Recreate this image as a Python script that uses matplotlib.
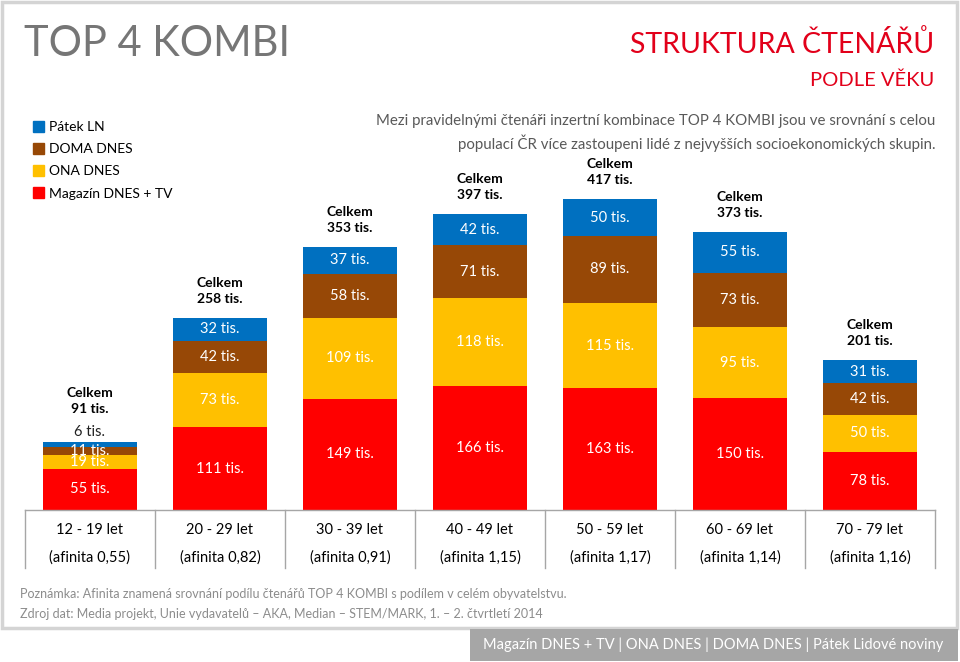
import matplotlib
matplotlib.use("Agg")
from matplotlib import pyplot as plt
from matplotlib.patches import Rectangle, Patch

plt.rcParams['font.family'] = ['Lato', 'DejaVu Sans']

# data (thousands of readers)
age_groups = ["12 - 19 let", "20 - 29 let", "30 - 39 let", "40 - 49 let",
              "50 - 59 let", "60 - 69 let", "70 - 79 let"]
affinity = ["0,55", "0,82", "0,91", "1,15", "1,17", "1,14", "1,16"]
magazin = [55, 111, 149, 166, 163, 150, 78]
ona = [19, 73, 109, 118, 115, 95, 50]
doma = [11, 42, 58, 71, 89, 73, 42]
patek = [6, 32, 37, 42, 50, 55, 31]
totals = [91, 258, 353, 397, 417, 373, 201]

series = [("Magazín DNES + TV", magazin, "#ff0000"),
          ("ONA DNES", ona, "#ffc000"),
          ("DOMA DNES", doma, "#974806"),
          ("Pátek LN", patek, "#0070c0")]

W, H = 960, 662
SCALE = 0.746  # pixels per thousand readers


def u(px):
    return px / SCALE


def fx(x):
    return x / W


def fy(y):
    return 1 - y / H


fig = plt.figure(figsize=(9.6, 6.62), dpi=100)
ax = fig.add_axes([fx(25), fy(510), 910 / W, 510 / H])
ax.set_xlim(-0.5, 6.5)
ax.set_ylim(0, u(510))
ax.axis("off")

xs = list(range(len(age_groups)))
bottoms = [0] * len(xs)
handles = []
for name, vals, col in series:
    ax.bar(xs, vals, bottom=bottoms, width=0.72, color=col, edgecolor="none")
    handles.append(Patch(color=col, label=name))
    for i, v in enumerate(vals):
        if v < 10:
            ax.text(i, bottoms[i] + v + u(10), f"{v} tis.", ha="center",
                    va="center", fontsize=10.5, color="#222222")
        else:
            ax.text(i, bottoms[i] + v / 2, f"{v} tis.", ha="center",
                    va="center", fontsize=10.5, color="white")
    bottoms = [b + v for b, v in zip(bottoms, vals)]

for i, t in enumerate(totals):
    extra = 14 if patek[i] < 10 else 0
    ax.text(i, t + u(35 + extra), "Celkem", ha="center", va="center",
            fontsize=10, fontweight="bold", color="black")
    ax.text(i, t + u(19 + extra), f"{t} tis.", ha="center", va="center",
            fontsize=10, fontweight="bold", color="black")

# table under the bars
line_col = "#a6a6a6"
ax.plot([-0.5, 6.5], [0, 0], color=line_col, lw=1, clip_on=False)
for k in range(len(xs) + 1):
    ax.plot([k - 0.5, k - 0.5], [0, -u(58)], color=line_col, lw=1,
            clip_on=False)
for i, (g, a) in enumerate(zip(age_groups, affinity)):
    ax.text(i, -u(20), g, ha="center", va="center", fontsize=10.5,
            color="black")
    ax.text(i, -u(48), f"(afinita {a})", ha="center", va="center",
            fontsize=10.5, color="black")

# legend
fig.legend(handles[::-1], [h.get_label() for h in handles[::-1]],
           loc="upper left", bbox_to_anchor=(fx(33), fy(121)),
           frameon=False, fontsize=10, handlelength=0.8, handleheight=0.8,
           handletextpad=0.35, labelspacing=0.72, borderpad=0, borderaxespad=0)

# titles
fig.text(fx(24), fy(44), "TOP 4 KOMBI", fontsize=30, color="#767676",
         ha="left", va="center")
fig.text(fx(934), fy(44), "STRUKTURA ČTENÁŘŮ", fontsize=20.5, color="#e2001a",
         ha="right", va="center")
fig.text(fx(934), fy(80), "PODLE VĚKU", fontsize=14.5, color="#e2001a",
         ha="right", va="center")
fig.text(fx(935), fy(121),
         "Mezi pravidelnými čtenáři inzertní kombinace TOP 4 KOMBI jsou ve srovnání s celou",
         fontsize=10.8, color="#595959", ha="right", va="center")
fig.text(fx(935), fy(143),
         "populací ČR více zastoupeni lidé z nejvyšších socioekonomických skupin.",
         fontsize=10.8, color="#595959", ha="right", va="center")

# notes
fig.text(fx(20), fy(594),
         "Poznámka: Afinita znamená srovnání podílu čtenářů TOP 4 KOMBI s podílem v celém obyvatelstvu.",
         fontsize=9, color="#8c8c8c", ha="left", va="center")
fig.text(fx(20), fy(614),
         "Zdroj dat: Media projekt, Unie vydavatelů – AKA, Median – STEM/MARK, 1. – 2. čtvrtletí 2014",
         fontsize=9, color="#8c8c8c", ha="left", va="center")

# panel border and footer box
fig.patches.append(Rectangle((fx(2), fy(628)), fx(955), 626 / H,
                             transform=fig.transFigure, fill=False,
                             edgecolor="#d4d4d4", lw=2.5))
fig.patches.append(Rectangle((fx(470), fy(661)), fx(488), 32 / H,
                             transform=fig.transFigure, facecolor="#a6a6a6",
                             edgecolor="none"))
fig.text(fx(713), fy(645),
         "Magazín DNES + TV | ONA DNES | DOMA DNES | Pátek Lidové noviny",
         fontsize=10.5, color="white", ha="center", va="center")

fig.savefig("out.png", dpi=100)
